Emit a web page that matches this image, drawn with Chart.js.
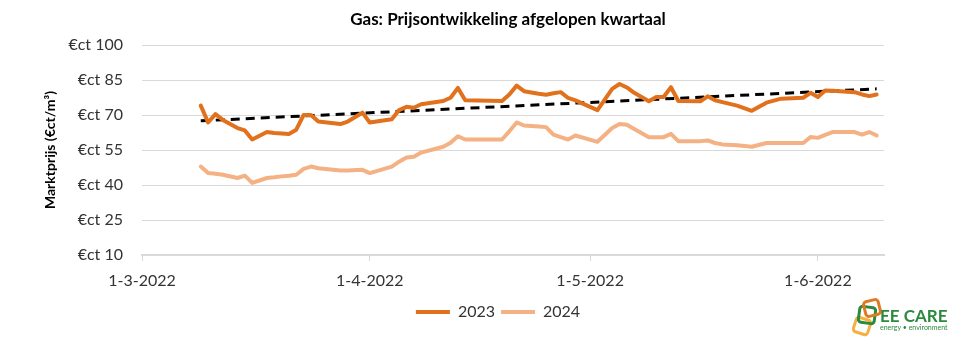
<!DOCTYPE html>
<html>
<head>
<meta charset="utf-8">
<title>Gas: Prijsontwikkeling afgelopen kwartaal</title>
<script src="https://cdn.jsdelivr.net/npm/chart.js@4/dist/chart.umd.min.js"></script>
<style>
    html, body { margin: 0; padding: 0; background: #fff; }
    canvas { display: block; }
</style>
</head>
<body>
<canvas id="grafiekGas" width="957" height="338"></canvas>
<script>
// Datums van de meetpunten (d-m-jjjj)
const datums = [
    "9-3-2022", "10-3-2022", "11-3-2022", "12-3-2022", "14-3-2022", "15-3-2022", "16-3-2022", "18-3-2022",
    "19-3-2022", "20-3-2022", "21-3-2022", "22-3-2022", "23-3-2022", "24-3-2022", "25-3-2022", "28-3-2022",
    "29-3-2022", "31-3-2022", "1-4-2022", "4-4-2022", "5-4-2022", "6-4-2022", "7-4-2022", "8-4-2022",
    "11-4-2022", "12-4-2022", "13-4-2022", "14-4-2022", "19-4-2022", "20-4-2022", "21-4-2022", "22-4-2022",
    "24-4-2022", "25-4-2022", "26-4-2022", "27-4-2022", "28-4-2022", "29-4-2022", "2-5-2022", "4-5-2022",
    "5-5-2022", "6-5-2022", "7-5-2022", "9-5-2022", "10-5-2022", "11-5-2022", "12-5-2022", "13-5-2022",
    "16-5-2022", "17-5-2022", "18-5-2022", "19-5-2022", "21-5-2022", "23-5-2022", "25-5-2022", "27-5-2022",
    "30-5-2022", "31-5-2022", "1-6-2022", "2-6-2022", "3-6-2022", "4-6-2022", "6-6-2022", "7-6-2022",
    "8-6-2022", "9-6-2022"
];

// Marktprijs in €ct/m³
const prijzen2023 = [
    74.0, 66.8, 70.4, 67.9, 64.4, 63.4, 59.5, 62.7,
    62.3, 62.1, 61.9, 63.7, 70.0, 70.0, 67.2, 66.1,
    67.2, 71.0, 66.8, 68.2, 72.1, 73.5, 73.1, 74.6,
    76.0, 77.4, 81.6, 76.3, 76.0, 78.8, 82.6, 80.2,
    79.1, 78.7, 79.3, 79.8, 77.3, 76.3, 72.1, 81.2,
    83.3, 81.8, 79.5, 75.9, 77.7, 77.7, 81.9, 76.0,
    75.9, 78.0, 76.3, 75.5, 74.0, 71.8, 75.3, 77.0,
    77.4, 79.5, 77.7, 80.5, 80.4, 80.2, 79.8, 78.8,
    78.1, 78.8
];

const prijzen2024 = [
    47.9, 45.1, 44.8, 44.4, 43.0, 44.0, 40.9, 43.0,
    43.3, 43.7, 44.0, 44.4, 46.9, 47.9, 47.2, 46.2,
    46.2, 46.5, 45.1, 47.9, 50.0, 51.8, 52.1, 53.9,
    56.4, 58.1, 60.9, 59.5, 59.5, 63.0, 66.8, 65.5,
    65.1, 64.8, 61.6, 60.5, 59.5, 61.2, 58.5, 64.4,
    66.1, 65.8, 64.0, 60.5, 60.5, 60.5, 61.9, 58.8,
    58.8, 59.1, 58.0, 57.4, 57.0, 56.4, 58.0, 58.0,
    58.0, 60.6, 60.2, 61.5, 62.7, 62.7, 62.7, 61.6,
    62.7, 61.2
];

// Lineaire trendlijn 2023: begin- en eindwaarde
const trend2023 = [67.5, 81.2];

// Maandlabels op de x-as en het bereik van de as
const asDatums = ["1-3-2022", "1-4-2022", "1-5-2022", "1-6-2022"];
const asEinde = "10-6-2022";

// Waarden op de y-as
const yLabels = [10, 25, 40, 55, 70, 85, 100];

const FONT = "Lato, 'Open Sans', sans-serif";
const DONKER = "#E2711D";
const LICHT = "#F4B183";

// Zet "d-m-jjjj" om naar dagnummer vanaf 1 maart 2022
function dagNummer(datum) {
    const [d, m, j] = datum.split("-").map(Number);
    return (Date.UTC(j, m - 1, d) - Date.UTC(2022, 2, 1)) / 86400000;
}

const punten = (waarden) => datums.map((datum, i) => ({ x: dagNummer(datum), y: waarden[i] }));

const trendPunten = [
    { x: dagNummer(datums[0]), y: trend2023[0] },
    { x: dagNummer(datums[datums.length - 1]), y: trend2023[1] }
];

// Titel, legenda-positie en logo
const opmaakPlugin = {
    id: "opmaakPlugin",
    afterLayout(chart) {
        const lg = chart.legend;
        const dx = 498 - (lg.left + lg.right) / 2;
        lg.left += dx;
        lg.right += dx;
    },
    afterDraw(chart) {
        const ctx = chart.ctx;
        ctx.save();

        // titel
        ctx.fillStyle = "#000";
        ctx.font = `bold 17px ${FONT}`;
        ctx.textAlign = "center";
        ctx.textBaseline = "middle";
        ctx.fillText("Gas: Prijsontwikkeling afgelopen kwartaal", 508, 20);

        // logo: drie gedraaide, afgeronde vierkantjes
        const vierkant = (cx, cy, s, hoek, kleur) => {
            ctx.save();
            ctx.translate(cx, cy);
            ctx.rotate(hoek * Math.PI / 180);
            ctx.strokeStyle = kleur;
            ctx.lineWidth = 3;
            ctx.beginPath();
            ctx.roundRect(-s / 2, -s / 2, s, s, 3);
            ctx.stroke();
            ctx.restore();
        };
        vierkant(862, 326, 15, 18, "#F5B041");
        vierkant(867, 315, 16, 8, "#2B8A3E");
        vierkant(872, 308, 15, -14, "#E07B22");

        ctx.fillStyle = "#2B8A3E";
        ctx.textAlign = "left";
        ctx.textBaseline = "alphabetic";
        ctx.font = `bold 17px ${FONT}`;
        ctx.fillText("EE CARE", 880, 322);
        ctx.font = `7px ${FONT}`;
        ctx.fillText("energy \u2022 environment", 880, 330);

        ctx.restore();
    }
};

new Chart(document.getElementById("grafiekGas"), {
    type: "line",
    data: {
        datasets: [
            {
                label: "2023",
                data: punten(prijzen2023),
                borderColor: DONKER,
                backgroundColor: DONKER,
                borderWidth: 4,
                pointRadius: 0,
                tension: 0,
                borderJoinStyle: "round",
                borderCapStyle: "round"
            },
            {
                label: "2024",
                data: punten(prijzen2024),
                borderColor: LICHT,
                backgroundColor: LICHT,
                borderWidth: 4,
                pointRadius: 0,
                tension: 0,
                borderJoinStyle: "round",
                borderCapStyle: "round"
            },
            {
                label: "Trend 2023",
                data: trendPunten,
                borderColor: "#000",
                borderWidth: 3,
                borderDash: [9, 6],
                pointRadius: 0
            }
        ]
    },
    options: {
        responsive: false,
        animation: false,
        devicePixelRatio: 1,
        layout: { padding: { top: 45, right: 73, bottom: 8, left: 0 } },
        scales: {
            x: {
                type: "linear",
                min: dagNummer(asDatums[0]),
                max: dagNummer(asEinde),
                afterBuildTicks: (scale) => {
                    scale.ticks = asDatums.map((d) => ({ value: dagNummer(d) }));
                },
                afterFit: (scale) => { scale.height = 43; },
                ticks: {
                    autoSkip: false,
                    maxRotation: 0,
                    padding: 10,
                    color: "#333",
                    font: { family: FONT, size: 16 },
                    callback: (v, i) => asDatums[i]
                },
                grid: {
                    drawOnChartArea: false,
                    drawTicks: true,
                    tickLength: 6,
                    color: "#D9D9D9"
                },
                border: { display: true, color: "#D9D9D9", width: 2 }
            },
            y: {
                min: yLabels[0],
                max: yLabels[yLabels.length - 1],
                afterBuildTicks: (scale) => {
                    scale.ticks = yLabels.map((v) => ({ value: v }));
                },
                afterFit: (scale) => { scale.width = 142; },
                ticks: {
                    padding: 19,
                    color: "#333",
                    font: { family: FONT, size: 16 },
                    callback: (v) => "€ct " + v
                },
                grid: { color: "#D9D9D9", drawTicks: false },
                border: { display: false },
                title: {
                    display: true,
                    text: "Marktprijs (€ct/m³)",
                    color: "#000",
                    font: { family: FONT, size: 14, weight: "bold" },
                    padding: { top: 42, bottom: 0 }
                }
            }
        },
        plugins: {
            title: { display: false },
            tooltip: { enabled: false },
            legend: {
                position: "bottom",
                labels: {
                    boxWidth: 34,
                    boxHeight: 4,
                    padding: 6,
                    color: "#333",
                    font: { family: FONT, size: 16 },
                    filter: (item) => item.text !== "Trend 2023",
                    generateLabels: (chart) =>
                        Chart.defaults.plugins.legend.labels.generateLabels(chart)
                            .map((item) => ({ ...item, lineWidth: 0 }))
                }
            }
        }
    },
    plugins: [opmaakPlugin]
});
</script>
</body>
</html>
